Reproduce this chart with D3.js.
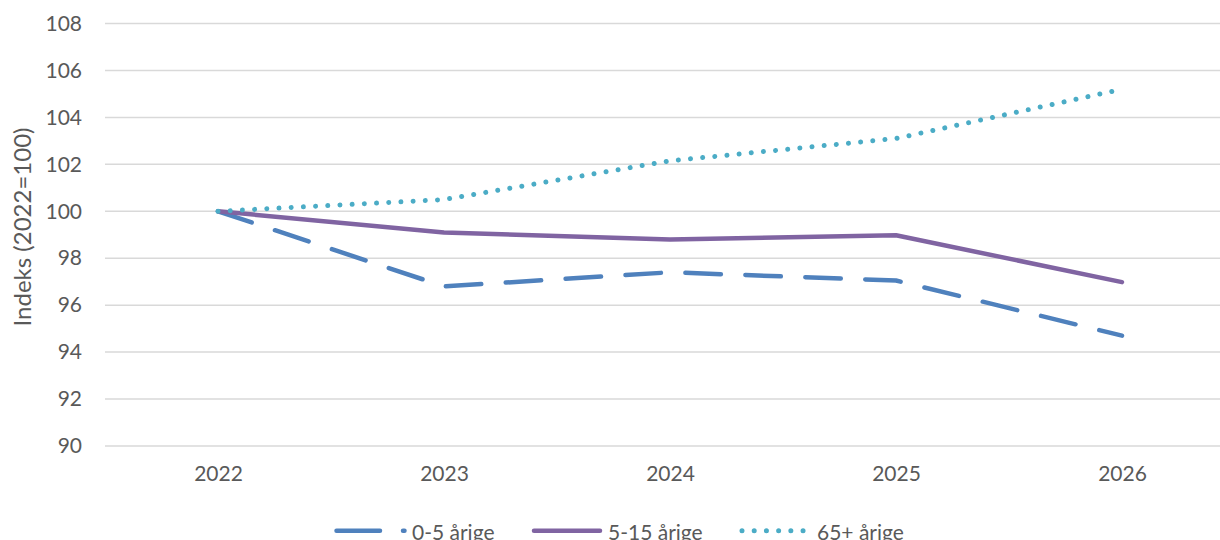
<!DOCTYPE html>
<html><head><meta charset="utf-8">
<script src="https://cdn.jsdelivr.net/npm/d3@7"></script>
<style>
html,body{margin:0;padding:0;background:#fff;overflow:hidden;}
svg text{font-family:Lato,"Open Sans",sans-serif;fill:#595959;}
</style></head>
<body><svg id="c" width="1220" height="540"></svg>
<script>
const years = ["2022","2023","2024","2025","2026"];
const seriesNames = ["0-5 årige","5-15 årige","65+ årige"];
const age0to5 = [100, 96.8, 97.4, 97.05, 94.7];
const age5to15 = [100, 99.1, 98.8, 98.98, 96.98];
const age65plus = [100, 100.5, 102.15, 103.1, 105.2];
const yTicks = [90,92,94,96,98,100,102,104,106,108];
const yTitle = "Indeks (2022=100)";

const colors = ["#4F81BD","#8064A2","#4BACC6"];
const dashes = ["35.5,24.5", null, "0.01,12.2"];
const legDashes = ["43.5,23", null, "0.01,12.2"];
const widths = [4.5, 4.5, 5];
const series = [age0to5, age5to15, age65plus];

const svg = d3.select("#c");
const x = d3.scalePoint().domain(years).range([105,1235]).padding(0.5);
const y = d3.scaleLinear().domain([90,108]).range([446,23.5]);

// gridlines
svg.append("g").selectAll("line").data(yTicks).join("line")
  .attr("x1",105).attr("x2",1235)
  .attr("y1",d=>y(d)).attr("y2",d=>y(d))
  .attr("stroke","#d9d9d9").attr("stroke-width",1.5);

// y axis labels
const yAxis = d3.axisLeft(y).tickValues(yTicks).tickSize(0).tickPadding(0);
const yg = svg.append("g").attr("transform","translate(82,0)").call(yAxis);
yg.select(".domain").remove();
yg.selectAll("text").attr("font-size",21).style("font-family","Lato,sans-serif").attr("fill","#595959");

// x axis labels
const xAxis = d3.axisBottom(x).tickSize(0).tickPadding(0);
const xg = svg.append("g").attr("transform","translate(0,466)").call(xAxis);
xg.select(".domain").remove();
xg.selectAll("text").attr("font-size",21).style("font-family","Lato,sans-serif").attr("fill","#595959");

// y title
svg.append("text").attr("transform","translate(23,227) rotate(-90)")
  .attr("text-anchor","middle").attr("dy","0.35em").attr("font-size",24).text(yTitle);

const line = d3.line().x((d,i)=>x(years[i])).y(d=>y(d));
series.forEach((s,k)=>{
  svg.append("path").datum(s).attr("d",line)
    .attr("fill","none").attr("stroke",colors[k]).attr("stroke-width",widths[k])
    .attr("stroke-linecap","round").attr("stroke-linejoin","round")
    .attr("stroke-dasharray",dashes[k]);
});

// legend
const legX1 = [336.5, 534, 742];
const legX2 = [404.5, 600, 803.2];
const legTX = [412, 608, 817];
const legY = 530.7;
seriesNames.forEach((n,k)=>{
  const g = svg.append("g");
  g.append("line").attr("x1",legX1[k]).attr("x2",legX2[k]).attr("y1",legY).attr("y2",legY)
    .attr("stroke",colors[k]).attr("stroke-width",widths[k]).attr("stroke-linecap","round")
    .attr("stroke-dasharray",legDashes[k]);
  g.append("text").attr("x",legTX[k]).attr("y",539.5)
    .attr("font-size",21).text(n);
});
</script></body></html>
